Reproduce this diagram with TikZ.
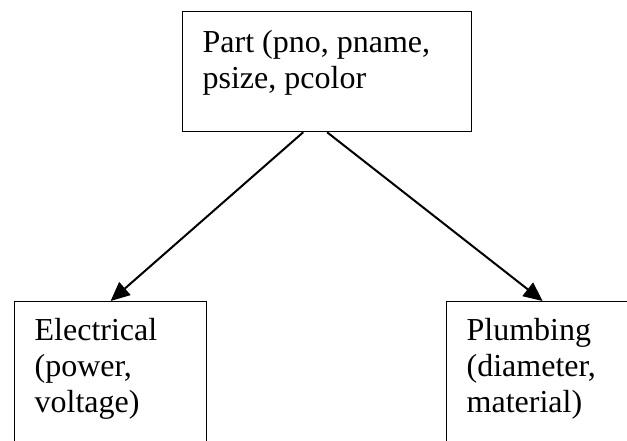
\documentclass[tikz,border=0pt]{standalone}
\usepackage{fontspec}
\setmainfont{Liberation Serif}
\usepackage{tikz}
\usetikzlibrary{arrows.meta, positioning}

\begin{document}
\begin{tikzpicture}[x=1pt,y=-1pt,
  entity/.style={draw,line width=1.3pt,anchor=north west,inner xsep=20pt,inner ysep=0pt,
    font=\fontsize{32}{36}\selectfont},
  isa/.style={-{Triangle[length=19pt,width=17pt]},line width=2pt}]
\useasboundingbox (0,0) rectangle (627,441);

\node[entity] (part) at (182,11) {
\begin{minipage}[c][120pt][t]{249pt}
\rule{0pt}{41pt}Part (pno, pname,\\
psize, pcolor
\end{minipage}
};

\node[entity] (elec) at (14,301) {
\begin{minipage}[c][200pt][t]{152pt}
\rule{0pt}{39pt}Electrical\\
(power,\\
voltage)
\end{minipage}
};

\node[entity] (plumb) at (446,301) {
\begin{minipage}[c][200pt][t]{152pt}
\rule{0pt}{39pt}Plumbing\\
(diameter,\\
material)
\end{minipage}
};

\draw[isa] ([xshift=-24pt]part.south) -- (elec.north);
\draw[isa] (part.south) -- (plumb.north);
\end{tikzpicture}
\end{document}
